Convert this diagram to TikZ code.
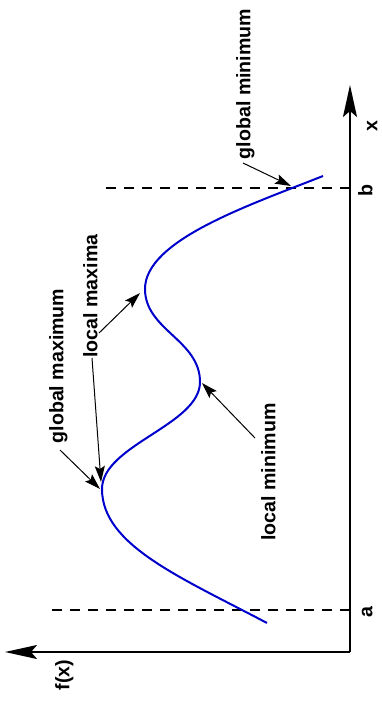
\documentclass[tikz,border=0pt]{standalone}
\usepackage{fontspec}
\setmainfont{Liberation Sans}
\usetikzlibrary{arrows.meta}
\definecolor{curveBlue}{HTML}{0000CC}

\begin{document}
\begin{tikzpicture}[x=0.5pt, y=-0.5pt,
  axis/.style={line width=1pt, -{Stealth[length=16pt,width=7pt,inset=3pt]}},
  guide/.style={line width=0.9pt, dash pattern=on 5pt off 4pt},
  lbl/.style={rotate=90, anchor=mid, inner sep=0pt,
              font=\fontsize{9.8}{12}\selectfont\bfseries},
  pointer/.style={line width=0.5pt, -{Stealth[length=8pt,width=5pt,inset=1.5pt]}},
  curve/.style={line width=1pt, curveBlue}]
  \useasboundingbox (0,0) rectangle (381,713);

  \coordinate (O)    at (350,652);
  \coordinate (xend) at (350,85);
  \coordinate (fend) at (5,652);
  \draw[axis] (O) -- (xend);
  \draw[axis] (O) -- (fend);

  \coordinate (a)    at (350,610);
  \coordinate (aEnd) at (45,610);
  \coordinate (b)    at (350,188);
  \coordinate (bEnd) at (102,188);
  \draw[guide] (a) -- (aEnd);
  \draw[guide] (b) -- (bEnd);

  \node[lbl] (xlbl) at (372,126) {x};
  \node[lbl] (blbl) at (367,191) {b};
  \node[lbl] (albl) at (367,612) {a};
  \node[lbl] (flbl) at (64,675)  {f(x)};

  \coordinate (cStart) at (267,623);
  \coordinate (cGmax)  at (102,489);
  \coordinate (cLmin)  at (200,382);
  \coordinate (cLmax)  at (145,289);
  \coordinate (cEnd)   at (323,176);
  \draw[curve] (cStart) .. controls (180,577) and (102,545) .. (cGmax)
                        .. controls (102,445) and (200,425) .. (cLmin)
                        .. controls (200,340) and (145,330) .. (cLmax)
                        .. controls (145,240) and (250,205) .. (cEnd);

  \node[lbl] (gminlbl) at (245,84)  {global minimum};
  \node[lbl] (gmaxlbl) at (58,366)  {global maximum};
  \node[lbl] (lmaxlbl) at (92,296)  {local maxima};
  \node[lbl] (lminlbl) at (270,472) {local minimum};

  \coordinate (gminTail)  at (243,163);
  \coordinate (gminTip)   at (291,186);
  \coordinate (gmaxTail)  at (60,450);
  \coordinate (gmaxTip)   at (100,489);
  \coordinate (lmaxTailA) at (99,333);
  \coordinate (lmaxTipA)  at (140,293);
  \coordinate (lmaxTailB) at (92,358);
  \coordinate (lmaxTipB)  at (101,482);
  \coordinate (lminTail)  at (255,438);
  \coordinate (lminTip)   at (202,383);

  \draw[pointer] (gminTail) -- (gminTip);
  \draw[pointer] (gmaxTail) -- (gmaxTip);
  \draw[pointer] (lmaxTailA) -- (lmaxTipA);
  \draw[pointer] (lmaxTailB) -- (lmaxTipB);
  \draw[pointer] (lminTail) -- (lminTip);
\end{tikzpicture}
\end{document}
